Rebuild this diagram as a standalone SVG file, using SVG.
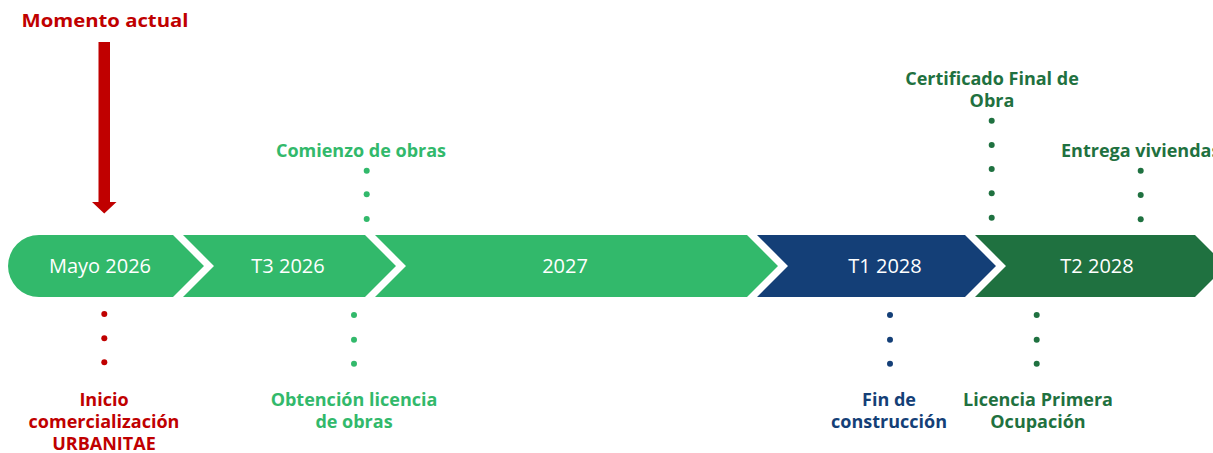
<svg xmlns="http://www.w3.org/2000/svg" width="1213" height="453" viewBox="0 0 1213 453">
<style>
.band{font-family:"Open Sans","Liberation Sans",sans-serif;font-size:20px;fill:#ffffff;text-anchor:middle}
.lbl{font-family:"Open Sans","Liberation Sans",sans-serif;font-size:18px;font-weight:700;text-anchor:middle}
.red{fill:#C00000}.lg{fill:#32B96B}.nv{fill:#143F77}.dg{fill:#1F7140}
</style>
<rect width="1213" height="453" fill="#ffffff"/>
<g id="now">
<text class="lbl red" x="105" y="27" font-size="20.5" textLength="167" lengthAdjust="spacingAndGlyphs">Momento actual</text>
<path class="red" d="M98.5 42 H110 V202 H116.5 L104.25 213.5 L92 202 H98.5 Z"/>
</g>
<g id="seg-mayo2026">
<path class="lg" d="M39 235 H173 L204 266 L173 297 H39 A31 31 0 0 1 39 235 Z"/>
<text class="band" x="100" y="273">Mayo 2026</text>
</g>
<g id="seg-t32026">
<path class="lg" d="M183 235 H365 L396 266 L365 297 H183 L214 266 Z"/>
<text class="band" x="288" y="273">T3 2026</text>
</g>
<g id="seg-2027">
<path class="lg" d="M375 235 H747 L778 266 L747 297 H375 L406 266 Z"/>
<text class="band" x="565" y="273">2027</text>
</g>
<g id="seg-t12028">
<path class="nv" d="M757 235 H965 L996 266 L965 297 H757 L788 266 Z"/>
<text class="band" x="885" y="273">T1 2028</text>
</g>
<g id="seg-t22028">
<path class="dg" d="M975 235 H1195 L1226 266 L1195 297 H975 L1006 266 Z"/>
<text class="band" x="1097" y="273">T2 2028</text>
</g>
<g id="connectors">
<g class="red"><circle cx="104.3" cy="314" r="3"/><circle cx="104.3" cy="338.3" r="3"/><circle cx="104.3" cy="362.3" r="3"/></g>
<g class="lg"><circle cx="354" cy="315" r="3"/><circle cx="354" cy="339.7" r="3"/><circle cx="354" cy="363.7" r="3"/></g>
<g class="lg"><circle cx="366.7" cy="170.7" r="3"/><circle cx="366.7" cy="194.3" r="3"/><circle cx="366.7" cy="219" r="3"/></g>
<g class="nv"><circle cx="890" cy="315" r="3"/><circle cx="890" cy="339.7" r="3"/><circle cx="890" cy="363.7" r="3"/></g>
<g class="dg"><circle cx="1036.7" cy="315" r="3"/><circle cx="1036.7" cy="339.7" r="3"/><circle cx="1036.7" cy="363.7" r="3"/></g>
<g class="dg"><circle cx="991.7" cy="120.7" r="3"/><circle cx="991.7" cy="145" r="3"/><circle cx="991.7" cy="169" r="3"/><circle cx="991.7" cy="193.3" r="3"/><circle cx="991.7" cy="217.7" r="3"/></g>
<g class="dg"><circle cx="1140.7" cy="170.7" r="3"/><circle cx="1140.7" cy="195" r="3"/><circle cx="1140.7" cy="219.3" r="3"/></g>
</g>
<g id="m-inicio">
<text class="lbl red"><tspan x="104" y="406">Inicio</tspan><tspan x="104" y="428">comercialización</tspan><tspan x="104" y="450">URBANITAE</tspan></text>
</g>
<g id="m-licencia-obras">
<text class="lbl lg"><tspan x="354" y="406">Obtención licencia</tspan><tspan x="354" y="428">de obras</tspan></text>
</g>
<g id="m-comienzo">
<text class="lbl lg" x="361" y="157">Comienzo de obras</text>
</g>
<g id="m-fin">
<text class="lbl nv"><tspan x="889" y="406">Fin de</tspan><tspan x="889" y="428">construcción</tspan></text>
</g>
<g id="m-lpo">
<text class="lbl dg"><tspan x="1038" y="406">Licencia Primera</tspan><tspan x="1038" y="428">Ocupación</tspan></text>
</g>
<g id="m-cfo">
<text class="lbl dg"><tspan x="992" y="85">Certificado Final de</tspan><tspan x="992" y="107">Obra</tspan></text>
</g>
<g id="m-entrega">
<text class="lbl dg" x="1061" y="157" style="text-anchor:start">Entrega viviendas</text>
</g>
</svg>
